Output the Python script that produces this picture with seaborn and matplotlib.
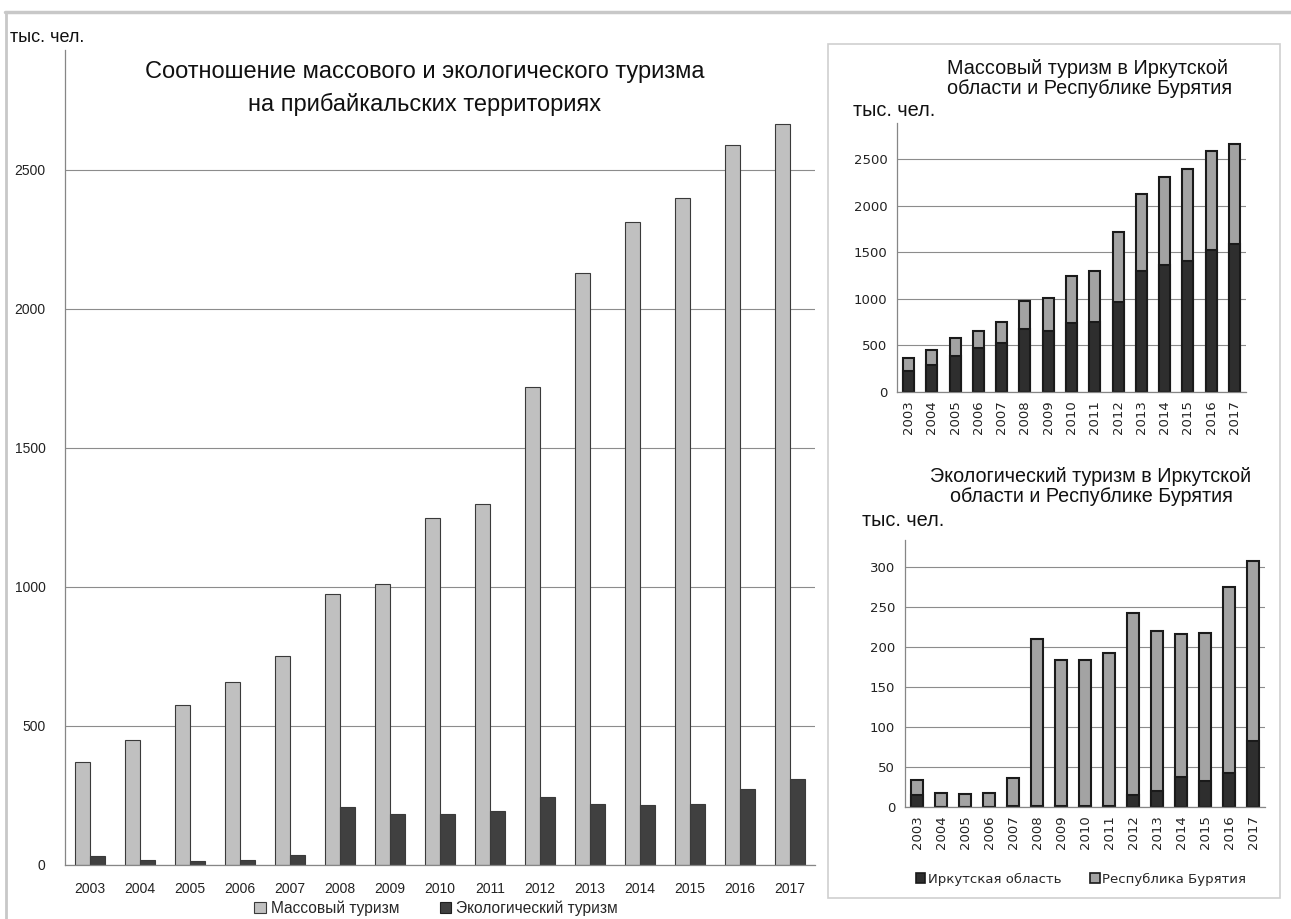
import matplotlib
matplotlib.use("Agg")
import matplotlib.pyplot as plt
from matplotlib.patches import Patch, Rectangle
from matplotlib.lines import Line2D
import seaborn as sns
import pandas as pd
import numpy as np

years = [str(y) for y in range(2003, 2018)]

# Mass tourism, thousand people
irk_mass = [225, 289, 389, 471, 524, 674, 660, 738, 749, 970, 1302, 1366, 1409, 1523, 1587]
bur_mass = [145, 160, 188, 188, 226, 300, 350, 510, 550, 750, 825, 945, 990, 1065, 1077]
# Ecological tourism, thousand people
irk_eco = [15, 0, 0, 0, 1, 1, 1, 1, 1, 15, 20, 37, 32, 43, 83]
bur_eco = [19, 17, 16, 17, 35, 209, 183, 183, 192, 228, 200, 180, 186, 232, 225]

mass_total = [a + b for a, b in zip(irk_mass, bur_mass)]
eco_total = [a + b for a, b in zip(irk_eco, bur_eco)]

sns.set_theme(style="white")
plt.rcParams['font.family'] = ['Liberation Sans', 'DejaVu Sans']

W, H = 1291, 919
fig = plt.figure(figsize=(W / 100, H / 100), dpi=100)


def rect(l, r, t, b):
    return [l / W, 1 - b / H, (r - l) / W, (b - t) / H]


def fx(x):
    return x / W


def fy(y):
    return 1 - y / H

# frame lines
fig.add_artist(Line2D([fx(5), 1], [fy(12), fy(12)], color="#c8c8c8", lw=2.5))
fig.add_artist(Line2D([fx(6), fx(6)], [fy(12), 0], color="#c8c8c8", lw=2.0))
fig.add_artist(Rectangle((fx(828), fy(898)), fx(1280) - fx(828), fy(44) - fy(898),
                         transform=fig.transFigure, fill=False, ec="#cfcfcf", lw=1.2))

GRID = "#8c8c8c"
AX = "#868686"
NARROW = ['Liberation Sans Narrow', 'Liberation Sans']

# ---------------- main chart ----------------
ax = fig.add_axes(rect(65, 815, 50, 865))
df = pd.DataFrame({
    "year": years * 2,
    "value": mass_total + eco_total,
    "kind": ["Массовый туризм"] * 15 + ["Экологический туризм"] * 15,
})
sns.barplot(data=df, x="year", y="value", hue="kind", ax=ax,
            palette=["#c0c0c0", "#404040"], width=0.6, gap=0,
            edgecolor="#3a3a3a", linewidth=0.8, legend=False)
ax.set_ylim(0, 2930)
ax.set_xlim(-0.5, 14.5)
ax.set_yticks([0, 500, 1000, 1500, 2000, 2500])
ax.yaxis.grid(True, color=GRID, lw=0.8)
ax.set_axisbelow(True)
ax.set_xlabel("")
ax.set_ylabel("")
for s in ["top", "right"]:
    ax.spines[s].set_visible(False)
for s in ["left", "bottom"]:
    ax.spines[s].set_color(AX)
    ax.spines[s].set_linewidth(0.9)
ax.tick_params(axis="y", length=0, pad=14, labelsize=10, labelcolor="#222222")
ax.tick_params(axis="x", which="major", length=0, pad=12, labelsize=10, labelcolor="#222222")
ax.set_xticks(np.arange(-0.5, 15, 1), minor=True)
ax.tick_params(axis="x", which="minor", length=5, color=AX, direction="out")
for lab in ax.get_xticklabels() + ax.get_yticklabels():
    lab.set_family(NARROW)
fig.text(fx(10), fy(38), "тыс. чел.", fontsize=13, va="center", ha="left", color="#111111",
         family=NARROW)
fig.text(fx(425), fy(72), "Соотношение массового и экологического туризма",
         fontsize=17, ha="center", va="center", color="#111111")
fig.text(fx(425), fy(104), "на прибайкальских территориях",
         fontsize=17, ha="center", va="center", color="#111111")
fig.legend(handles=[Patch(fc="#c0c0c0", ec="#3a3a3a", lw=0.8, label="Массовый туризм"),
                    Patch(fc="#404040", ec="#202020", lw=0.8, label="Экологический туризм")],
           loc="center", bbox_to_anchor=(fx(436), fy(908)), ncol=2, frameon=False,
           handlelength=0.75, handleheight=0.75, handletextpad=0.3,
           columnspacing=2.6, prop={'family': NARROW, 'size': 11.2})

DARK = "#2e2e2e"
LIGHT = "#a3a3a3"
EDGE = "#1a1a1a"


def stacked(ax, irk, total, ymax, ticks):
    sns.barplot(x=years, y=total, ax=ax, color=LIGHT, width=0.47,
                edgecolor=EDGE, linewidth=1.5, saturation=1)
    sns.barplot(x=years, y=irk, ax=ax, color=DARK, width=0.47,
                edgecolor=EDGE, linewidth=1.5, saturation=1)
    ax.set_ylim(0, ymax)
    ax.set_xlim(-0.5, 14.5)
    ax.set_yticks(ticks)
    ax.yaxis.grid(True, color=GRID, lw=0.8)
    ax.set_axisbelow(True)
    for s in ["top", "right"]:
        ax.spines[s].set_visible(False)
    for s in ["left", "bottom"]:
        ax.spines[s].set_color(AX)
        ax.spines[s].set_linewidth(0.9)
    ax.tick_params(axis="y", length=4, color=AX, pad=3, labelsize=9.5, labelcolor="#222222")
    ax.tick_params(axis="x", which="major", length=0, pad=6, labelsize=9.5,
                   labelrotation=90, labelcolor="#222222")
    ax.set_xticks(np.arange(-0.5, 15, 1), minor=True)
    ax.tick_params(axis="x", which="minor", length=4, color=AX, direction="out")
    for lab in ax.get_xticklabels() + ax.get_yticklabels():
        lab.set_family(['DejaVu Sans'])
    ax.set_xlabel("")
    ax.set_ylabel("")

# ---------------- top right ----------------
ax2 = fig.add_axes(rect(897, 1246, 123, 392))
stacked(ax2, irk_mass, mass_total, 2890, [0, 500, 1000, 1500, 2000, 2500])
fig.text(fx(947), fy(68), "Массовый туризм в Иркутской", fontsize=14.3, ha="left", va="center", color="#111111")
fig.text(fx(947), fy(89), "области и Республике Бурятия", fontsize=14.3, ha="left", va="center", color="#111111")
fig.text(fx(853), fy(110), "тыс. чел.", fontsize=14.3, ha="left", va="center", color="#111111")

# ---------------- bottom right ----------------
ax3 = fig.add_axes(rect(905, 1265, 540, 807))
stacked(ax3, irk_eco, eco_total, 334, [0, 50, 100, 150, 200, 250, 300])
fig.text(fx(1091), fy(476), "Экологический туризм в Иркутской", fontsize=14.2, ha="center", va="center", color="#111111")
fig.text(fx(1091), fy(496), "области и Республике Бурятия", fontsize=14.2, ha="center", va="center", color="#111111")
fig.text(fx(862), fy(521), "тыс. чел.", fontsize=14.3, ha="left", va="center", color="#111111")
fig.legend(handles=[Patch(fc=DARK, ec=EDGE, lw=1.2, label="Иркутская область"),
                    Patch(fc=LIGHT, ec=EDGE, lw=1.2, label="Республика Бурятия")],
           loc="center", bbox_to_anchor=(fx(1081), fy(879)), ncol=2, frameon=False,
           handlelength=0.7, handleheight=0.7, handletextpad=0.2, columnspacing=2.2,
           prop={'family': ['DejaVu Sans'], 'size': 9.5})

fig.savefig("out.png", dpi=100, facecolor="white")
